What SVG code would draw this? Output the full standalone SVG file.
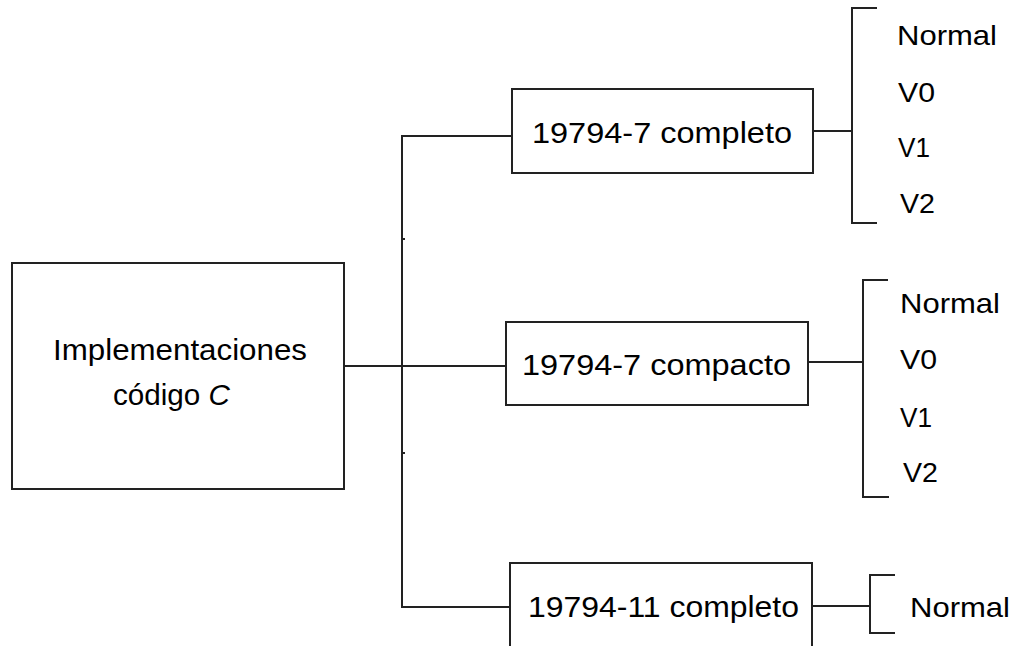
<svg xmlns="http://www.w3.org/2000/svg" width="1017" height="646" viewBox="0 0 1017 646">
<style>
.box{fill:#fff;stroke:#222;stroke-width:2}
.ln{fill:none;stroke:#222;stroke-width:2}
.t{font-family:"Liberation Sans",Arial,sans-serif;font-size:30px;fill:#000}
.s{font-family:"Liberation Sans",Arial,sans-serif;font-size:28px;fill:#000}
</style>
<rect width="1017" height="646" fill="#fff"/>
<g id="connectors">
<path class="ln" d="M344 366 H506"/>
<path class="ln" d="M512 136 H402 V607 H510"/>
<path class="ln" d="M402 239 h3 M402 453 h3"/>
<path class="ln" d="M813 131 H852"/>
<path class="ln" d="M877 8 H852 V223 H877"/>
<path class="ln" d="M808 362 H863"/>
<path class="ln" d="M888 280 H863 V497 H889"/>
<path class="ln" d="M812 606 H870"/>
<path class="ln" d="M895 575 H870 V633 H895"/>
</g>
<g id="root">
<rect class="box" x="12" y="263" width="332" height="226"/>
<text class="t" x="53" y="360" textLength="254" lengthAdjust="spacingAndGlyphs">Implementaciones</text>
<text class="t" x="113" y="405" textLength="117" lengthAdjust="spacingAndGlyphs">código <tspan font-style="italic">C</tspan></text>
</g>
<g id="n1">
<rect class="box" x="512" y="89" width="301" height="84"/>
<text class="t" x="532" y="143" textLength="260" lengthAdjust="spacingAndGlyphs">19794-7 completo</text>
</g>
<g id="n2">
<rect class="box" x="506" y="322" width="302" height="83"/>
<text class="t" x="522" y="375" textLength="269" lengthAdjust="spacingAndGlyphs">19794-7 compacto</text>
</g>
<g id="n3">
<rect class="box" x="510" y="563" width="302" height="90"/>
<text class="t" x="528" y="617" textLength="271" lengthAdjust="spacingAndGlyphs">19794-11 completo</text>
</g>
<g id="leaves1">
<text class="s" x="897" y="45" textLength="100" lengthAdjust="spacingAndGlyphs">Normal</text>
<text class="s" x="898" y="102" textLength="37" lengthAdjust="spacingAndGlyphs">V0</text>
<text class="s" x="898" y="157" textLength="32" lengthAdjust="spacingAndGlyphs">V1</text>
<text class="s" x="900" y="213" textLength="35" lengthAdjust="spacingAndGlyphs">V2</text>
</g>
<g id="leaves2">
<text class="s" x="900" y="313" textLength="100" lengthAdjust="spacingAndGlyphs">Normal</text>
<text class="s" x="900" y="369" textLength="37" lengthAdjust="spacingAndGlyphs">V0</text>
<text class="s" x="900" y="427" textLength="32" lengthAdjust="spacingAndGlyphs">V1</text>
<text class="s" x="903" y="482" textLength="35" lengthAdjust="spacingAndGlyphs">V2</text>
</g>
<g id="leaves3">
<text class="s" x="910" y="617" textLength="100" lengthAdjust="spacingAndGlyphs">Normal</text>
</g>
</svg>
